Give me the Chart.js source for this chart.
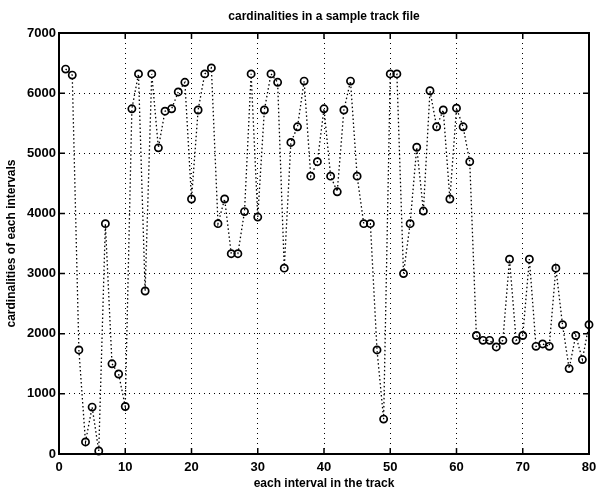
<!DOCTYPE html>
<html>
<head>
<meta charset="utf-8">
<script src="https://cdn.jsdelivr.net/npm/chart.js@4/dist/chart.umd.min.js"></script>
<style>
    html, body { margin: 0; padding: 0; background: #fff; }
    #wrap { width: 596px; height: 493px; }
</style>
</head>
<body>
<div id="wrap"><canvas id="chart_cardinalidades" width="596" height="493"></canvas></div>
<script>
const intervals = [
    1, 2, 3, 4, 5, 6, 7, 8, 9, 10,
    11, 12, 13, 14, 15, 16, 17, 18, 19, 20,
    21, 22, 23, 24, 25, 26, 27, 28, 29, 30,
    31, 32, 33, 34, 35, 36, 37, 38, 39, 40,
    41, 42, 43, 44, 45, 46, 47, 48, 49, 50,
    51, 52, 53, 54, 55, 56, 57, 58, 59, 60,
    61, 62, 63, 64, 65, 66, 67, 68, 69, 70,
    71, 72, 73, 74, 75, 76, 77, 78, 79, 80,
];
const cardinalities = [
    6400, 6300, 1730, 200, 780, 50, 3830, 1500, 1330, 790,
    5740, 6320, 2710, 6320, 5090, 5700, 5740, 6020, 6180, 4240,
    5720, 6320, 6420, 3830, 4240, 3330, 3330, 4030, 6320, 3940,
    5720, 6320, 6180, 3090, 5180, 5440, 6200, 4620, 4860, 5740,
    4620, 4360, 5720, 6200, 4620, 3830, 3830, 1730, 580, 6320,
    6320, 3000, 3830, 5100, 4040, 6040, 5440, 5720, 4240, 5750,
    5440, 4860, 1970, 1890, 1890, 1780, 1890, 3240, 1890, 1970,
    3240, 1790, 1830, 1790, 3090, 2150, 1420, 1970, 1570, 2150,
];
const xTicks = [0, 10, 20, 30, 40, 50, 60, 70, 80];
const yTicks = [0, 1000, 2000, 3000, 4000, 5000, 6000, 7000];

const fontFamily = '"Liberation Sans", Arial, Helvetica, sans-serif';

// moldura + marcas de escala para dentro (estilo matlab)
const frame = {
    id: 'frame',
    afterDraw(chart) {
        const { ctx, chartArea: a, scales } = chart;
        ctx.save();
        ctx.strokeStyle = '#000';
        ctx.lineWidth = 1.5;
        ctx.beginPath();
        xTicks.forEach(v => {
            const px = scales.x.getPixelForValue(v);
            ctx.moveTo(px, a.bottom); ctx.lineTo(px, a.bottom - 6);
            ctx.moveTo(px, a.top); ctx.lineTo(px, a.top + 6);
        });
        yTicks.forEach(v => {
            const py = scales.y.getPixelForValue(v);
            ctx.moveTo(a.left, py); ctx.lineTo(a.left + 6, py);
            ctx.moveTo(a.right, py); ctx.lineTo(a.right - 6, py);
        });
        ctx.stroke();
        ctx.lineWidth = 2;
        ctx.strokeRect(a.left, a.top, a.right - a.left, a.bottom - a.top);
        ctx.restore();
    }
};

new Chart(document.getElementById('chart_cardinalidades'), {
    type: 'line',
    data: {
        datasets: [{
            data: intervals.map((x, i) => ({ x: x, y: cardinalities[i] })),
            borderColor: '#000',
            borderWidth: 1.3,
            borderDash: [1.5, 2.5],
            tension: 0,
            clip: false,
            pointStyle: 'circle',
            pointRadius: 3.6,
            pointBorderWidth: 1.7,
            pointBorderColor: '#000',
            pointBackgroundColor: 'rgba(255,255,255,0)',
        }]
    },
    options: {
        responsive: false,
        animation: false,
        devicePixelRatio: 1,
        layout: { padding: { left: 0, right: 0, top: 0, bottom: 0 } },
        plugins: {
            legend: { display: false },
            tooltip: { enabled: false },
            title: {
                display: true,
                fullSize: false,
                text: 'cardinalities in a sample track file',
                color: '#000',
                font: { family: fontFamily, size: 12, weight: 'bold' },
                padding: { top: 9, bottom: 9.6 }
            }
        },
        scales: {
            x: {
                type: 'linear',
                min: 0,
                max: 80,
                afterFit: scale => { scale.height = 39; scale.paddingRight = 7; },
                afterBuildTicks: scale => { scale.ticks = xTicks.map(v => ({ value: v })); },
                grid: { color: '#000', lineWidth: 1, drawTicks: false },
                border: { display: false, dash: [1, 4] },
                ticks: {
                    color: '#000',
                    padding: 6,
                    maxRotation: 0,
                    callback: v => String(v),
                    font: { family: fontFamily, size: 13, weight: 'bold' }
                },
                title: {
                    display: true,
                    text: 'each interval in the track',
                    color: '#000',
                    font: { family: fontFamily, size: 12, weight: 'bold' },
                    padding: { top: 0, bottom: 2 }
                }
            },
            y: {
                type: 'linear',
                min: 0,
                max: 7000,
                afterFit: scale => { scale.width = 59; },
                afterBuildTicks: scale => { scale.ticks = yTicks.map(v => ({ value: v })); },
                grid: { color: '#000', lineWidth: 1, drawTicks: false },
                border: { display: false, dash: [1, 4] },
                ticks: {
                    color: '#000',
                    padding: 3,
                    callback: v => String(v),
                    font: { family: fontFamily, size: 13, weight: 'bold' }
                },
                title: {
                    display: true,
                    text: 'cardinalities of each intervals',
                    color: '#000',
                    font: { family: fontFamily, size: 12, weight: 'bold' },
                    padding: { top: 4, bottom: 0 }
                }
            }
        }
    },
    plugins: [frame]
});
</script>
</body>
</html>
